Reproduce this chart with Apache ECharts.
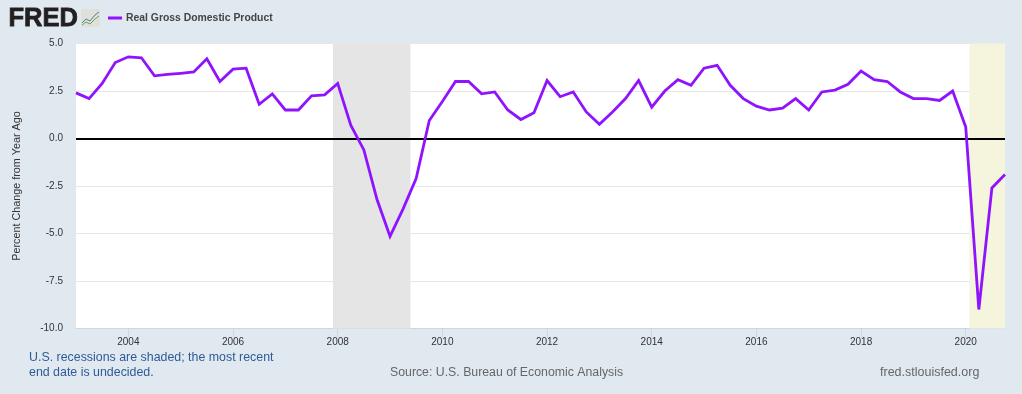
<!DOCTYPE html>
<html><head><meta charset="utf-8">
<style>html,body{margin:0;padding:0;background:#e1e9f0}#c{width:1022px;height:394px}</style>
<script src="https://cdn.jsdelivr.net/npm/echarts@6/dist/echarts.min.js"></script>
</head><body><div id="c"></div>
<script>
const startYear = 2003;
const gdpChange = [2.4,2.1,2.9,4.0,4.3,4.25,3.3,3.37,3.43,3.5,4.2,3.0,3.65,3.7,1.8,2.35,1.5,1.5,2.25,2.3,2.9,0.7,-0.6,-3.2,-5.15,-3.7,-2.1,0.95,1.95,3.0,3.0,2.35,2.45,1.5,1.0,1.35,3.05,2.2,2.45,1.4,0.75,1.4,2.1,3.05,1.65,2.5,3.1,2.8,3.7,3.85,2.8,2.1,1.7,1.5,1.6,2.1,1.5,2.45,2.55,2.85,3.55,3.1,3.0,2.45,2.1,2.1,2.0,2.5,0.6,-9.0,-2.6,-1.9];
const quarterYears = gdpChange.map((_, i) => startYear + i / 4);
const tickYears = [2004,2006,2008,2010,2012,2014,2016,2018,2020];
const recessions = [[2007.91,2009.39,'#e5e5e5'],[2020.07,2020.75,'#f5f4dc']];
const seriesName = 'Real Gross Domestic Product';
const font = '"Liberation Sans", Arial, sans-serif';
const chart = echarts.init(document.getElementById('c'), null, {renderer:'canvas'});
chart.setOption({
  animation:false,
  backgroundColor:'#e1e9f0',
  textStyle:{fontFamily:font},
  grid:{left:76,right:17,top:43.5,bottom:65.5,containLabel:false,outerBoundsMode:'none',show:true,backgroundColor:'#fff',borderWidth:0},
  legend:{left:103,top:8,itemWidth:14,itemHeight:3,icon:'rect',itemGap:0,
    textStyle:{fontSize:10.4,fontWeight:'bold',color:'#444',fontFamily:font,padding:[0,0,0,-1]},
    data:[seriesName]},
  xAxis:{type:'value',min:quarterYears[0],max:quarterYears[quarterYears.length-1],
    axisLine:{show:true,onZero:false,lineStyle:{color:'#ccd6eb',width:1}},
    axisTick:{show:true,length:9,lineStyle:{color:'#ccd6eb'},customValues:tickYears},
    splitLine:{show:false},
    axisLabel:{customValues:tickYears,margin:9,fontSize:10,color:'#333',hideOverlap:false,
      formatter:v=>String(v)}},
  yAxis:{type:'value',min:-10,max:5,interval:2.5,
    name:'Percent Change from Year Ago',nameLocation:'middle',nameGap:53,
    nameTextStyle:{fontSize:10.8,color:'#333',fontFamily:font},
    axisLine:{show:false},axisTick:{show:false},
    splitLine:{lineStyle:{color:'#e6e6e6',width:1}},
    axisLabel:{margin:13,fontSize:10,color:'#333',padding:[3,0,0,0],formatter:v=>v.toFixed(1)}},
  series:[{name:seriesName,type:'line',
    data:quarterYears.map((d,i)=>[d,gdpChange[i]]),
    showSymbol:false,symbol:'none',
    lineStyle:{color:'#9013fe',width:2.8,join:'miter'},
    itemStyle:{color:'#9013fe'},
    z:5,
    markArea:{silent:true,z:1,data:recessions.map(r=>[{xAxis:r[0],itemStyle:{color:r[2]}},{xAxis:r[1]}])},
    markLine:{silent:true,symbol:'none',z:4,label:{show:false},
      lineStyle:{color:'#000',width:2,type:'solid'},data:[{yAxis:0}]}
  }],
  graphic:[
    {type:'text',x:8.5,y:6,style:{text:'FRED',font:'bold 25.5px "Liberation Sans", Arial, sans-serif',fill:'#231f20',stroke:'#231f20',lineWidth:0.8}},
    {type:'rect',shape:{x:81,y:9,width:19,height:18,r:2},style:{fill:'#e0e0da'}},
    {type:'polyline',shape:{points:[[82,23],[86,19],[90,21],[95,15],[99,12]]},style:{stroke:'#4f7f9f',lineWidth:1,fill:null}},
    {type:'polyline',shape:{points:[[82,25],[86,22],[90,24],[95,19],[99,16]]},style:{stroke:'#6aa05a',lineWidth:1,fill:null}},
    {type:'text',x:29,y:352,style:{text:'U.S. recessions are shaded; the most recent',font:'12.4px "Liberation Sans", Arial, sans-serif',fill:'#2f5a96'}},
    {type:'text',x:29,y:367,style:{text:'end date is undecided.',font:'12.4px "Liberation Sans", Arial, sans-serif',fill:'#2f5a96'}},
    {type:'text',x:390,y:367,style:{text:'Source: U.S. Bureau of Economic Analysis',font:'12.3px "Liberation Sans", Arial, sans-serif',fill:'#666'}},
    {type:'text',x:880,y:366,style:{text:'fred.stlouisfed.org',font:'12.5px "Liberation Sans", Arial, sans-serif',fill:'#666'}}
  ]
});
</script></body></html>
